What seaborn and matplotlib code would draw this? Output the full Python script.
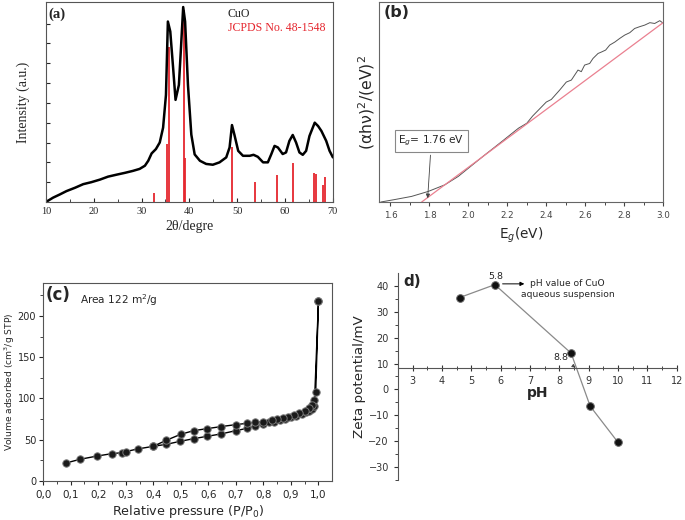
import numpy as np
import pandas as pd
import matplotlib
matplotlib.use("Agg")
import matplotlib.pyplot as plt
import seaborn as sns

# (a) XRD pattern
xrd_2theta = [10, 11.5, 12.9, 14.3, 16.1, 17.8, 19.5, 21.3, 23, 24.8, 26.5, 28.2, 29.6, 30.7,
              31.4, 32.1, 33.0, 33.8, 34.5, 35.1, 35.5, 36.0, 36.6, 37.1, 37.8, 38.2, 38.7,
              39.1, 39.7, 40.4, 41.1, 42.2, 43.5, 44.9, 46.3, 47.7, 48.4, 48.9, 49.4, 50.2,
              51.2, 52.6, 53.4, 54.3, 55.4, 56.4, 57.1, 57.8, 58.5, 59.5, 60.2, 60.9, 61.6,
              62.3, 63, 63.7, 64.4, 65.1, 66.2, 66.9, 67.6, 68.6, 69.3, 70]
xrd_int = [0, 2.2, 3.8, 5.5, 7.2, 9, 10, 11.3, 12.8, 13.8, 14.7, 15.7, 16.7, 18.3,
           20.8, 24.5, 26.7, 30, 37.5, 54, 91, 86, 67.5, 51.5, 59, 76, 98.3,
           91, 59, 34, 24, 20.8, 19.2, 18.8, 20, 22.5, 27.5, 38.8, 34, 25.8,
           23.3, 23.3, 23.8, 22.8, 20, 20, 24, 28.3, 27.5, 24.2, 25, 30.8, 33.8,
           30, 25, 23.8, 25.8, 33.3, 40, 38.3, 35.8, 30.8, 25.8, 22.5]
jcpds_pos = [32.6, 35.4, 35.7, 38.8, 39.1, 48.9, 53.7, 58.4, 61.6, 66.0, 66.5, 68.0, 68.4]
jcpds_int = [4.5, 29, 78, 96.7, 22, 27.5, 10, 13.7, 19.5, 14.7, 14.3, 8.7, 12.8]

# (b) Tauc plot
tauc_e = [1.55, 1.62, 1.708, 1.794, 1.879, 1.948, 2.0, 2.085, 2.171, 2.257, 2.30, 2.33,
          2.36, 2.40, 2.426, 2.469, 2.503, 2.529, 2.546, 2.563, 2.58, 2.597, 2.623, 2.64,
          2.666, 2.683, 2.705, 2.726, 2.752, 2.777, 2.803, 2.829, 2.854, 2.88, 2.906,
          2.932, 2.957, 2.983, 2.997]
tauc_y = [0.0, 0.012, 0.028, 0.053, 0.086, 0.128, 0.169, 0.236, 0.302, 0.369, 0.394, 0.43,
          0.46, 0.50, 0.513, 0.56, 0.60, 0.61, 0.635, 0.66, 0.652, 0.685, 0.693, 0.718,
          0.743, 0.75, 0.76, 0.785, 0.80, 0.818, 0.835, 0.847, 0.868, 0.877, 0.885,
          0.897, 0.893, 0.907, 0.897]
fit_e = [1.76, 3.0]
fit_y = [0.0, 0.897]

# (c) N2 adsorption / desorption isotherm
ads_p = [0.083, 0.134, 0.197, 0.249, 0.285, 0.30, 0.343, 0.40, 0.447, 0.498, 0.547, 0.595,
         0.646, 0.70, 0.741, 0.77, 0.80, 0.82, 0.84, 0.86, 0.88, 0.90, 0.92, 0.94, 0.955,
         0.965, 0.975, 0.985, 1.0]
ads_v = [21.8, 26.3, 30.3, 33.1, 34.3, 35.6, 38.8, 42.0, 44.4, 48.1, 51.3, 54.1,
         57.0, 61.0, 63.8, 66.5, 69.0, 71.0, 72.0, 73.5, 75.0, 77.0, 79.0, 81.0, 83.0,
         85.0, 87.5, 91.0, 218]
des_p = [1.0, 0.99, 0.985, 0.975, 0.965, 0.95, 0.93, 0.91, 0.89, 0.87, 0.85, 0.83, 0.80,
         0.77, 0.741, 0.70, 0.646, 0.595, 0.547, 0.50, 0.447, 0.40]
des_v = [218, 107.5, 98.0, 92.0, 88.0, 85.0, 82.0, 80.0, 78.0, 76.5, 75.0, 74.0, 72.0,
         71.0, 69.9, 68.3, 65.9, 63.4, 61.0, 56.6, 49.3, 42.0]

# (d) zeta potential
ph = [4.6, 5.8, 8.4, 9.05, 10.0]
zeta = [35.5, 40.5, 14.0, -6.5, -20.5]

sns.set_style("ticks")

fig = plt.figure(figsize=(6.85, 5.2), dpi=100)

##### (a)
ax1 = fig.add_axes([0.067, 0.6115, 0.419, 0.3845])
serif = ["Liberation Serif", "DejaVu Serif"]
ax1.vlines(jcpds_pos, 0, jcpds_int, color="#e5262e", lw=1.3)
sns.lineplot(x=xrd_2theta, y=xrd_int, ax=ax1, color="black", lw=1.8,
             sort=False, estimator=None)
ax1.set_xlim(10, 70)
ax1.set_ylim(0, 100.8)
ax1.set_xticks(range(10, 71, 10))
ax1.set_xticks(range(15, 70, 10), minor=True)
ax1.set_yticks(np.arange(10, 100, 10))
ax1.set_yticklabels([])
ax1.tick_params(direction="in", length=3, labelsize=7.5)
ax1.tick_params(which="minor", direction="in", length=2)
for lab in ax1.get_xticklabels():
    lab.set_family(serif)
ax1.set_xlabel("2θ/degre", family=serif, fontsize=10, labelpad=3)
ax1.set_ylabel("Intensity (a.u.)", family=serif, fontsize=10, labelpad=8)
for s in ax1.spines.values():
    s.set_color("#555555")
ax1.text(0.008, 0.975, "(a)", transform=ax1.transAxes, family=serif,
         fontweight="bold", fontsize=10.5, va="top")
ax1.text(48.0, 94.9, "CuO", family=serif, fontsize=8.6, va="center")
ax1.text(48.0, 87.8, "JCPDS No. 48-1548", family=serif, fontsize=8.6,
         color="#e5262e", va="center")

##### (b)
ax2 = fig.add_axes([0.553, 0.6115, 0.415, 0.3845])
sns.lineplot(x=tauc_e, y=tauc_y, ax=ax2, color="#555555", lw=0.7,
             sort=False, estimator=None)
sns.lineplot(x=fit_e, y=fit_y, ax=ax2, color="#ea8090", lw=0.9,
             sort=False, estimator=None)
ax2.set_xlim(1.54, 3.0)
ax2.set_ylim(0, 1.0)
ax2.set_xticks(np.arange(1.6, 3.01, 0.2))
ax2.set_xticks(np.arange(1.7, 3.0, 0.2), minor=True)
ax2.set_yticks([])
ax2.tick_params(axis="x", direction="out", length=3, labelsize=6.3,
                colors="#444444")
ax2.tick_params(axis="x", which="minor", direction="out", length=2)
ax2.set_xlabel("E$_g$(eV)", fontsize=9.8, labelpad=4)
ax2.set_ylabel("(αhν)$^2$/(eV)$^2$", fontsize=11.3, labelpad=1)
for s in ax2.spines.values():
    s.set_color("#666666")
ax2.text(0.018, 0.985, "(b)", transform=ax2.transAxes, fontweight="bold",
         fontsize=11.5, va="top")
ax2.annotate("E$_g$= 1.76 eV", xy=(1.79, 0.005), xytext=(1.81, 0.305),
             fontsize=7.7, ha="center", va="center",
             bbox=dict(boxstyle="square,pad=0.35", fc="white", ec="#888888", lw=0.8),
             arrowprops=dict(arrowstyle="-|>", color="#444444", lw=0.6,
                             mutation_scale=6))

##### (c)
ax3 = fig.add_axes([0.063, 0.075, 0.422, 0.381])
p_all = ads_p + des_p
v_all = ads_v + des_v
sns.lineplot(x=p_all, y=v_all, ax=ax3, color="black", lw=1.0,
             sort=False, estimator=None, marker="o", markersize=5.3,
             markerfacecolor="#1a1a1a", markeredgecolor="#777777",
             markeredgewidth=0.7)
ax3.set_xlim(0, 1.05)
ax3.set_ylim(0, 240)
xt = np.arange(0, 1.01, 0.1)
ax3.set_xticks(xt)
ax3.set_xticklabels([f"{v:.1f}".replace(".", ",") for v in xt])
ax3.set_xticks(np.arange(0.05, 1.05, 0.05), minor=True)
ax3.set_yticks([0, 50, 100, 150, 200])
ax3.set_yticks([25, 75, 125, 175, 225], minor=True)
ax3.tick_params(direction="out", length=3, labelsize=7.5)
ax3.tick_params(axis="y", pad=2, labelsize=7)
ax3.tick_params(which="minor", direction="out", length=2)
ax3.set_xlabel("Relative pressure (P/P$_0$)", fontsize=9.2, labelpad=2)
ax3.set_ylabel("Volume adsorbed (cm$^3$/g STP)", fontsize=6.6)
ax3.yaxis.set_label_coords(-0.092, 0.5)
for s in ax3.spines.values():
    s.set_color("#555555")
ax3.text(0.01, 0.985, "(c)", transform=ax3.transAxes, fontweight="bold",
         fontsize=12, va="top")
ax3.text(0.128, 0.955, "Area 122 m$^2$/g", transform=ax3.transAxes,
         fontsize=7.6, va="top")

##### (d)
ax4 = fig.add_axes([0.581, 0.077, 0.407, 0.398])
sns.lineplot(x=ph, y=zeta, ax=ax4, color="#8a8a8a", lw=0.9,
             sort=False, estimator=None, marker="o", markersize=5.5,
             markerfacecolor="#111111", markeredgecolor="#666666",
             markeredgewidth=0.7)
ax4.set_xlim(2.5, 12)
ax4.set_ylim(-35, 45)
ax4.spines["top"].set_visible(False)
ax4.spines["right"].set_visible(False)
ax4.spines["bottom"].set_position(("data", 8.3))
ax4.set_xticks(range(3, 13))
ax4.set_xticks(np.arange(3.5, 12, 0.5), minor=True)
ax4.set_yticks(range(-30, 41, 10))
ax4.set_yticks(range(-35, 45, 10), minor=True)
ax4.tick_params(direction="out", length=3, labelsize=7, colors="#333333")
ax4.tick_params(axis="x", direction="inout", length=4, labelsize=7)
ax4.tick_params(which="minor", direction="out", length=2)
ax4.tick_params(axis="x", which="minor", direction="inout", length=3)
ax4.set_xlabel("pH", fontsize=10, fontweight="bold", labelpad=0)
ax4.set_ylabel("Zeta potential/mV", fontsize=9.7, labelpad=2)
for s in ax4.spines.values():
    s.set_color("#555555")
ax4.text(2.7, 44.5, "d)", fontweight="bold", fontsize=11, va="top")
ax4.text(5.83, 43.6, "5.8", fontsize=6.8, ha="center", va="center")
ax4.annotate("", xy=(6.9, 40.8), xytext=(5.97, 40.8),
             arrowprops=dict(arrowstyle="-|>", color="black", lw=0.7,
                             mutation_scale=6))
ax4.text(8.28, 40.8, "pH value of CuO", fontsize=6.6, ha="center", va="center")
ax4.text(8.28, 36.5, "aqueous suspension", fontsize=6.6, ha="center", va="center")
ax4.annotate("8.8", xy=(8.55, 8.4), xytext=(8.05, 12.5), fontsize=6.8,
             ha="center", va="center",
             arrowprops=dict(arrowstyle="-|>", color="#444444", lw=0.6,
                             mutation_scale=5, shrinkA=2, shrinkB=0))

fig.savefig("out.png", dpi=100)
